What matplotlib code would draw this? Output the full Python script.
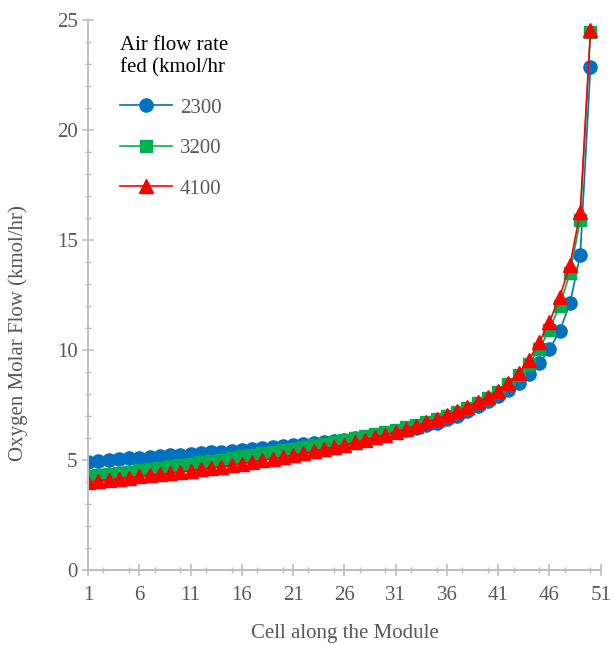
import matplotlib
matplotlib.use("Agg")
import matplotlib.pyplot as plt
from matplotlib.ticker import MultipleLocator, FixedLocator

plt.rcParams['font.family'] = ['Liberation Serif', 'DejaVu Serif']

cells = list(range(1, 51))
x_ticks = [1, 6, 11, 16, 21, 26, 31, 36, 41, 46, 51]

flow_2300 = [4.92, 4.96, 5.00, 5.03, 5.07, 5.10, 5.14, 5.17, 5.21, 5.24,
             5.28, 5.31, 5.35, 5.38, 5.42, 5.46, 5.50, 5.54, 5.58, 5.62,
             5.66, 5.71, 5.76, 5.81, 5.86, 5.92, 5.98, 6.04, 6.11, 6.18,
             6.26, 6.35, 6.45, 6.57, 6.70, 6.85, 7.02, 7.23, 7.44, 7.66,
             7.90, 8.18, 8.51, 8.91, 9.39, 10.03, 10.86, 12.12, 14.32, 22.88]
flow_3200 = [4.26, 4.31, 4.36, 4.41, 4.47, 4.53, 4.59, 4.65, 4.71, 4.77,
             4.83, 4.89, 4.95, 5.02, 5.09, 5.16, 5.23, 5.30, 5.37, 5.44,
             5.51, 5.58, 5.66, 5.74, 5.82, 5.90, 5.99, 6.08, 6.17, 6.27,
             6.37, 6.48, 6.60, 6.73, 6.87, 7.02, 7.19, 7.38, 7.59, 7.83,
             8.10, 8.44, 8.85, 9.36, 10.05, 10.92, 12.02, 13.50, 15.90, 24.45]
flow_4100 = [4.00, 4.05, 4.10, 4.15, 4.20, 4.25, 4.30, 4.35, 4.40, 4.45,
             4.51, 4.57, 4.63, 4.69, 4.76, 4.83, 4.90, 4.98, 5.06, 5.14,
             5.22, 5.31, 5.40, 5.49, 5.59, 5.69, 5.80, 5.91, 6.03, 6.15,
             6.28, 6.42, 6.56, 6.71, 6.87, 7.04, 7.22, 7.42, 7.64, 7.88,
             8.15, 8.50, 8.95, 9.55, 10.35, 11.29, 12.42, 13.86, 16.29, 24.55]

blue = "#0070C0"
green = "#00B050"
red = "#FF0000"
grey = "#595959"
axis_grey = "#BFBFBF"

fig = plt.figure(figsize=(6.13, 6.45), dpi=100)
ax = fig.add_axes([0.1436, 0.1163, 0.8364, 0.8527])

ax.plot(cells, flow_2300, color=blue, linewidth=1.2, marker='o', markersize=9.5,
        label="2300")
ax.plot(cells, flow_3200, color=green, linewidth=1.2, marker='s', markersize=8,
        label="3200")
ax.plot(cells, flow_4100, color=red, linewidth=1.2, marker='^', markersize=10,
        label="4100")

ax.set_xlim(1, 51)
ax.set_ylim(0, 25)
ax.xaxis.set_major_locator(FixedLocator(x_ticks))
ax.xaxis.set_minor_locator(MultipleLocator(2.5))
ax.yaxis.set_major_locator(MultipleLocator(5))
ax.yaxis.set_minor_locator(MultipleLocator(1))

for side in ['top', 'right']:
    ax.spines[side].set_visible(False)
for side in ['left', 'bottom']:
    ax.spines[side].set_color(axis_grey)
    ax.spines[side].set_linewidth(1.5)

ax.tick_params(which='major', direction='inout', length=9, width=1.2,
               color=axis_grey, labelsize=15, labelcolor=grey)
ax.tick_params(which='minor', direction='inout', length=5, width=1.0,
               color=axis_grey)
ax.tick_params(axis='x', which='major', pad=7)
ax.tick_params(axis='y', which='major', pad=3)

ax.set_xlabel("Cell along the Module", fontsize=15, color=grey, labelpad=14)
ax.set_ylabel("Oxygen Molar Flow (kmol/hr)", fontsize=15, color=grey)
ax.yaxis.set_label_coords(-0.118, 0.43)

leg = ax.legend(title="Air flow rate\nfed (kmol/hr", loc='upper left',
                bbox_to_anchor=(0.025, 1.005), frameon=False, fontsize=15,
                title_fontsize=15, labelspacing=1.0, handlelength=2.5,
                handletextpad=0.4, alignment='left')
for t in leg.get_texts():
    t.set_color(grey)

fig.savefig("out.png", dpi=100)
